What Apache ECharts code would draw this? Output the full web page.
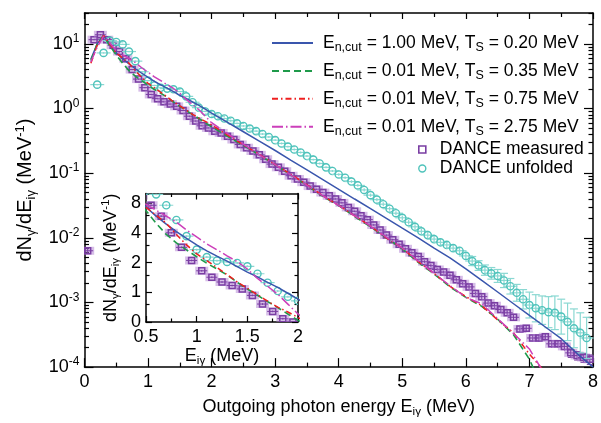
<!DOCTYPE html>
<html><head><meta charset="utf-8">
<script src="https://cdn.jsdelivr.net/npm/echarts@6/dist/echarts.min.js"></script>
<style>html,body{margin:0;padding:0;background:#fff}#c{width:601px;height:423px}</style>
</head><body><div id="c"></div>
<script>
// ---------------- data ----------------
const measuredE = [0.05,0.15,0.25,0.35,0.45,0.55,0.65,0.75,0.85,0.95,
  1.05,1.15,1.25,1.35,1.45,1.55,1.65,1.75,1.85,1.95,
  2.05,2.15,2.25,2.35,2.45,2.55,2.65,2.75,2.85,2.95,
  3.05,3.15,3.25,3.35,3.45,3.55,3.65,3.75,3.85,3.95,
  4.05,4.15,4.25,4.35,4.45,4.55,4.65,4.75,4.85,4.95,
  5.05,5.15,5.25,5.35,5.45,5.55,5.65,5.75,5.85,5.95,
  6.05,6.15,6.25,6.35,6.45,6.55,6.65,6.75,6.85,6.95,
  7.05,7.15,7.25,7.35,7.45,7.55,7.65,7.75,7.85,7.95];
const measuredY = [0.0063,11.6,13.8,11.6,9.5,7.6,5.9,4.0,2.85,2.1,
  1.65,1.42,1.27,1.17,1.08,0.93,0.76,0.64,0.54,0.50,
  0.444,0.419,0.372,0.331,0.278,0.248,0.220,0.192,0.164,0.138,
  0.123,0.107,0.0912,0.0813,0.0724,0.0631,0.0562,0.0501,0.0447,0.0398,
  0.0347,0.0295,0.0257,0.0219,0.0191,0.0158,0.0132,0.0110,0.00933,0.00794,
  0.00676,0.00589,0.00513,0.00427,0.00372,0.00324,0.00295,0.00263,0.00224,0.00195,
  0.00174,0.00138,0.00123,0.000977,0.000891,0.000776,0.000692,0.000589,0.000389,0.000398,
  0.000282,0.000282,0.000295,0.000229,0.000229,0.000209,0.000166,0.000151,0.000141,0.000132];
// relative (linear) uncertainty
const measuredErr = [0.1,0.02,0.02,0.02,0.02,0.02,0.02,0.02,0.02,0.02,
  0.02,0.02,0.02,0.02,0.02,0.02,0.02,0.02,0.02,0.02,
  0.02,0.02,0.02,0.02,0.02,0.02,0.02,0.02,0.02,0.02,
  0.02,0.02,0.02,0.02,0.02,0.02,0.02,0.02,0.02,0.02,
  0.025,0.025,0.025,0.025,0.025,0.025,0.025,0.025,0.025,0.025,
  0.04,0.04,0.04,0.05,0.05,0.05,0.05,0.06,0.06,0.06,
  0.07,0.07,0.08,0.08,0.08,0.09,0.09,0.1,0.1,0.1,
  0.12,0.12,0.12,0.13,0.13,0.14,0.15,0.15,0.16,0.17];

const unfoldedE = [0.2,0.3,0.4,0.5,0.6,0.7,0.8,0.9,1.0,1.1,
  1.2,1.3,1.4,1.5,1.6,1.7,1.8,1.9,2.0,2.1,
  2.2,2.3,2.4,2.5,2.6,2.7,2.8,2.9,3.0,3.1,
  3.2,3.3,3.4,3.5,3.6,3.7,3.8,3.9,4.0,4.1,
  4.2,4.3,4.4,4.5,4.6,4.7,4.8,4.9,5.0,5.1,
  5.2,5.3,5.4,5.5,5.6,5.7,5.8,5.9,6.0,6.1,
  6.2,6.3,6.4,6.5,6.6,6.7,6.8,6.9,7.0,7.1,
  7.2,7.3,7.4,7.5,7.6,7.7,7.8,7.9];
const unfoldedY = [2.34,7.24,11.2,10.7,9.8,7.6,5.4,3.7,2.7,2.27,
  2.09,2.03,1.98,1.83,1.54,1.25,1.03,0.90,0.82,0.759,
  0.700,0.646,0.589,0.537,0.490,0.447,0.403,0.363,0.324,0.288,
  0.257,0.232,0.209,0.184,0.162,0.141,0.123,0.108,0.0955,0.0851,
  0.0741,0.0646,0.0550,0.0457,0.0389,0.0331,0.0282,0.0240,0.0204,0.0174,
  0.0148,0.0126,0.0110,0.00955,0.00851,0.00776,0.00692,0.00631,0.00525,0.00437,
  0.00372,0.00316,0.00282,0.00257,0.00219,0.00178,0.00141,0.00112,0.000912,0.000813,
  0.000759,0.000708,0.000692,0.000603,0.000501,0.000398,0.000339,0.000282];
// uncertainty in decades (log10 half-width)
const unfoldedErr = [0.01,0.01,0.01,0.01,0.01,0.01,0.01,0.01,0.01,0.01,
  0.01,0.01,0.01,0.01,0.01,0.01,0.01,0.01,0.01,0.015,
  0.015,0.015,0.015,0.015,0.015,0.015,0.015,0.015,0.015,0.015,
  0.015,0.015,0.015,0.015,0.015,0.015,0.015,0.015,0.02,0.02,
  0.02,0.02,0.025,0.025,0.025,0.03,0.03,0.03,0.035,0.035,
  0.04,0.04,0.045,0.045,0.05,0.05,0.055,0.06,0.065,0.07,
  0.075,0.08,0.09,0.1,0.11,0.12,0.13,0.15,0.2,0.21,
  0.22,0.24,0.26,0.27,0.29,0.3,0.31,0.32];

const lineE = [0.1,0.2,0.3,0.4,0.5,0.6,0.7,0.8,0.9,1.0,1.1,1.2,1.3,1.4,1.5,1.6,1.7,1.8,1.9,2.0,
  2.25,2.5,2.75,3.0,3.25,3.5,3.75,4.0,4.25,4.5,4.75,5.0,5.25,5.5,5.75,6.0,6.25,6.5,6.75,7.0];
const blueY = [5.75,10.0,13.5,10.0,7.3,5.9,4.9,4.12,3.51,3.02,2.63,2.32,2.07,1.82,1.60,1.43,1.26,1.12,0.977,0.851,
  0.610,0.437,0.313,0.224,0.158,0.112,0.0794,0.0562,0.0398,0.0282,0.0200,0.0141,0.0100,0.00692,0.00490,0.00331,0.00219,0.00145,0.000955,0.000631];
const blueTailE = [7.25,7.5,7.75,8.0];
const blueTailY = [0.000417,0.000275,0.000162,0.0001];
const greenY = [5.5,10.0,13.5,9.3,6.7,5.0,3.85,3.16,2.69,2.29,1.97,1.72,1.50,1.26,1.08,0.933,0.804,0.700,0.603,0.519,
  0.372,0.269,0.191,0.135,0.0933,0.0646,0.0437,0.0316,0.0214,0.0148,0.0100,0.00676,0.00417,0.00275,0.00174,0.00120,0.000871,0.000550,0.000316,0.000132];
const greenTailE = [7.1];
const greenTailY = [0.0000794];
const redY = [5.0,9.5,13.5,9.8,7.24,6.03,5.0,3.85,3.02,2.45,2.09,1.78,1.51,1.27,1.10,0.944,0.813,0.708,0.631,0.556,
  0.389,0.275,0.195,0.136,0.0955,0.0661,0.0447,0.0316,0.0219,0.0151,0.0100,0.00692,0.00427,0.00282,0.00178,0.00123,0.000891,0.000537,0.000339,0.000158];
const redTailE = [7.25];
const redTailY = [0.0000832];
const magentaY = [5.25,8.9,13.2,10.2,7.76,6.76,5.89,5.13,4.27,3.63,3.09,2.69,2.34,2.04,1.72,1.38,1.15,0.955,0.759,0.603,
  0.407,0.282,0.191,0.135,0.0933,0.0646,0.0447,0.0316,0.0219,0.0151,0.0102,0.00692,0.00437,0.00282,0.00182,0.00120,0.000955,0.000562,0.000331,0.000191];
const magentaTailE = [7.2];
const magentaTailY = [0.0000891];

const legendLabels = {
  L1: ['1.00', '0.20'], L2: ['0.01', '0.35'], L3: ['0.01', '0.75'], L4: ['0.01', '2.75']
};
const yMajorTicks = [1e-4, 1e-3, 1e-2, 1e-1, 1, 10];
const insetYTicks = [0.5, 1, 2, 4, 8];
const insetYMinorTicks = [0.75, 1.5, 3, 6];

// ---------------- helpers ----------------
const yMinorTicks = [];
yMajorTicks.forEach(d => { for (let m = 2; m <= 9; m++) { const v = +(d * m).toPrecision(3); if (v <= 30) yMinorTicks.push(v); } });

const PURPLE = '#7a3ea3', PURPLE_HALO = 'rgba(175,125,210,0.5)';
const CYAN = '#4fc3bb', CYAN_BAR = '#8ad8d2';
const BLUE = '#3a56ad', GREEN = '#1f9a4a', RED = '#ee2020', MAGENTA = '#cc3fba';
const FONT = 'Liberation Sans, Arial, Helvetica, sans-serif';

function pts(xs, ys, es) { return xs.map((x, i) => es ? [x, ys[i], es[i]] : [x, ys[i]]); }
function lineData(ys, tailE, tailY) { return pts(lineE, ys).concat(pts(tailE, tailY)); }

function renderMeasured(params, api) {
  const x = api.value(0), y = api.value(1), e = api.value(2);
  const p = api.coord([x, y]);
  const lo = api.coord([x, y * (1 - e)]), hi = api.coord([x, y * (1 + e)]);
  const ch = [];
  ch.push({ type: 'rect', shape: { x: p[0] - 6.5, y: p[1] - 4, width: 13, height: 8 }, style: { fill: PURPLE_HALO } });
  ch.push({ type: 'line', shape: { x1: p[0], y1: lo[1], x2: p[0], y2: hi[1] }, style: { stroke: PURPLE, lineWidth: 1 } });
  if (Math.abs(lo[1] - hi[1]) > 8) {
    ch.push({ type: 'line', shape: { x1: p[0] - 3, y1: lo[1], x2: p[0] + 3, y2: lo[1] }, style: { stroke: PURPLE, lineWidth: 1 } });
    ch.push({ type: 'line', shape: { x1: p[0] - 3, y1: hi[1], x2: p[0] + 3, y2: hi[1] }, style: { stroke: PURPLE, lineWidth: 1 } });
  }
  ch.push({ type: 'line', shape: { x1: p[0] - 5.5, y1: p[1], x2: p[0] + 5.5, y2: p[1] }, style: { stroke: PURPLE, lineWidth: 1 } });
  ch.push({ type: 'rect', shape: { x: p[0] - 3, y: p[1] - 3, width: 6, height: 6 }, style: { fill: 'none', stroke: PURPLE, lineWidth: 1.5 } });
  return { type: 'group', children: ch };
}
function renderUnfolded(params, api) {
  const x = api.value(0), y = api.value(1), e = api.value(2);
  const f = Math.pow(10, e);
  const p = api.coord([x, y]);
  const lo = api.coord([x, y / f]), hi = api.coord([x, y * f]);
  const ch = [];
  ch.push({ type: 'line', shape: { x1: p[0] - 7, y1: p[1], x2: p[0] + 7, y2: p[1] }, style: { stroke: CYAN_BAR, lineWidth: 1.2 } });
  ch.push({ type: 'line', shape: { x1: p[0], y1: lo[1], x2: p[0], y2: hi[1] }, style: { stroke: CYAN_BAR, lineWidth: 1.2 } });
  if (Math.abs(lo[1] - hi[1]) > 9) {
    ch.push({ type: 'line', shape: { x1: p[0] - 4, y1: lo[1], x2: p[0] + 4, y2: lo[1] }, style: { stroke: CYAN_BAR, lineWidth: 1.2 } });
    ch.push({ type: 'line', shape: { x1: p[0] - 4, y1: hi[1], x2: p[0] + 4, y2: hi[1] }, style: { stroke: CYAN_BAR, lineWidth: 1.2 } });
  }
  ch.push({ type: 'circle', shape: { cx: p[0], cy: p[1], r: 3.6 }, style: { fill: 'none', stroke: CYAN, lineWidth: 1.4 } });
  return { type: 'group', children: ch };
}

const axLine = { show: true, lineStyle: { color: '#000', width: 1.5 } };
const tickStyle = { color: '#000', width: 1.2 };
const subRich = { sub: { fontSize: 12, fontFamily: FONT, color: '#000', padding: [10, 0, 0, 0] }, sup: { fontSize: 12, fontFamily: FONT, color: '#000', padding: [0, 0, 10, 0] } };

function xAxisCfg(grid, min, max, interval, pos, labels, major, minor, zl, extra) {
  return Object.assign({
    type: 'value', gridIndex: grid, min: min, max: max, interval: interval, position: pos, zlevel: zl,
    axisLine: axLine, splitLine: { show: false }, minorSplitLine: { show: false },
    axisTick: { inside: true, length: major, lineStyle: tickStyle },
    minorTick: { show: true, splitNumber: 2, length: minor, lineStyle: tickStyle },
    axisLabel: labels ? { show: true, fontSize: 18, color: '#000', fontFamily: FONT, margin: 6, formatter: v => String(v) } : { show: false }
  }, extra || {});
}
function yAxisCfg(grid, base, min, max, pos, ticks, len, labelFmt, zl, extra) {
  return Object.assign({
    type: 'log', logBase: base, gridIndex: grid, min: min, max: max, position: pos, zlevel: zl,
    axisLine: axLine, splitLine: { show: false }, minorTick: { show: false },
    axisTick: { inside: true, length: len, lineStyle: tickStyle, customValues: ticks },
    axisLabel: labelFmt ? { show: true, customValues: ticks, fontSize: 18, color: '#000', fontFamily: FONT, margin: 5, formatter: labelFmt, rich: subRich } : { show: false }
  }, extra || {});
}

const nameStyle = (fs) => ({ fontSize: fs, color: '#000', fontFamily: FONT, rich: { sub: { fontSize: fs * 0.65, fontFamily: FONT, color: '#000', padding: [fs * 0.55, 0, 0, 0] }, sup: { fontSize: fs * 0.65, fontFamily: FONT, color: '#000', padding: [0, 0, fs * 0.55, 0] } } });
const yTitle = 'dN{sub|γ}/dE{sub|iγ} (MeV{sup|-1})';

const option = {
  animation: false,
  backgroundColor: '#fff',
  textStyle: { fontFamily: FONT },
  grid: [
    { left: 84.5, right: 4, top: 13, bottom: 49.5, show: false },
    { left: 146, top: 193.5, width: 152, height: 128.5, show: true, backgroundColor: '#fff', borderWidth: 0, zlevel: 1, z: 0 }
  ],
  legend: [
    {
      left: 271, top: 34, padding: 0, orient: 'vertical', itemWidth: 41, itemHeight: 14, itemGap: 7.4,
      itemStyle: { opacity: 0 },
      data: ['L1', 'L2', 'L3', 'L4'],
      formatter: n => '{f|E}{sub|n,cut}{t| = ' + legendLabels[n][0] + ' MeV, T}{sub|S}{t| = ' + legendLabels[n][1] + ' MeV}',
      textStyle: { fontSize: 17.5, color: '#000', fontFamily: FONT, rich: {
        f: { fontSize: 17.5, color: '#000', fontFamily: FONT, padding: [0, 0, 0, 5] },
        t: { fontSize: 17.5, color: '#000', fontFamily: FONT },
        sub: { fontSize: 12.5, color: '#000', fontFamily: FONT, padding: [10, 0, 0, 0] } } }
    },
    {
      left: 418, top: 140, padding: 0, orient: 'vertical', itemWidth: 7, itemHeight: 7, itemGap: 0,
      data: [
        { name: 'DANCE measured', icon: 'rect', itemStyle: { color: 'rgba(0,0,0,0)', borderColor: PURPLE, borderWidth: 1.6 } },
        { name: 'DANCE unfolded', icon: 'circle', itemStyle: { color: 'rgba(0,0,0,0)', borderColor: CYAN, borderWidth: 1.4 } }
      ],
      formatter: n => '{t|' + n + '}',
      textStyle: { fontSize: 17.5, color: '#000', fontFamily: FONT, lineHeight: 19, rich: { t: { fontSize: 17.5, lineHeight: 19, color: '#000', fontFamily: FONT, padding: [0, 0, 0, 9] } } }
    }
  ],
  xAxis: [
    xAxisCfg(0, 0, 8, 1, 'bottom', true, 9, 4.5, 0, { name: 'Outgoing photon energy E{sub|iγ} (MeV)', nameLocation: 'middle', nameGap: 29, nameTextStyle: nameStyle(18) }),
    xAxisCfg(0, 0, 8, 1, 'top', false, 6, 4, 0),
    xAxisCfg(1, 0.5, 2, 0.5, 'bottom', true, 6, 3.5, 1, { name: 'E{sub|iγ} (MeV)', nameLocation: 'middle', nameGap: 17, nameTextStyle: nameStyle(18) }),
    xAxisCfg(1, 0.5, 2, 0.5, 'top', false, 6, 3.5, 1)
  ],
  yAxis: [
    yAxisCfg(0, 10, 1e-4, 30, 'left', yMajorTicks, 9, v => '10{sup|' + Math.round(Math.log10(v)) + '}', 0,
      { name: yTitle, nameLocation: 'middle', nameGap: 38, nameRotate: 90, nameTextStyle: nameStyle(20) }),
    yAxisCfg(0, 10, 1e-4, 30, 'left', yMinorTicks, 4.5, null, 0, { axisLine: { show: false } }),
    yAxisCfg(0, 10, 1e-4, 30, 'right', yMajorTicks, 9, null, 0),
    yAxisCfg(0, 10, 1e-4, 30, 'right', yMinorTicks, 4.5, null, 0, { axisLine: { show: false } }),
    yAxisCfg(1, 2, 0.5, 10, 'left', insetYTicks, 6, v => String(Math.floor(v)), 1,
      { name: yTitle, nameLocation: 'middle', nameGap: 24, nameRotate: 90, nameTextStyle: nameStyle(18) }),
    yAxisCfg(1, 2, 0.5, 10, 'left', insetYMinorTicks, 3.5, null, 1, { axisLine: { show: false } }),
    yAxisCfg(1, 2, 0.5, 10, 'right', insetYTicks, 6, null, 1),
    yAxisCfg(1, 2, 0.5, 10, 'right', insetYMinorTicks, 3.5, null, 1, { axisLine: { show: false } })
  ],
  series: []
};

function addSeries(xi, yi, zl) {
  option.series.push(
    { type: 'custom', name: 'DANCE measured', xAxisIndex: xi, yAxisIndex: yi, zlevel: zl, clip: true, renderItem: renderMeasured,
      encode: { x: 0, y: 1 }, data: pts(measuredE, measuredY, measuredErr), itemStyle: { color: PURPLE } },
    { type: 'custom', name: 'DANCE unfolded', xAxisIndex: xi, yAxisIndex: yi, zlevel: zl, clip: true, renderItem: renderUnfolded,
      encode: { x: 0, y: 1 }, data: pts(unfoldedE, unfoldedY, unfoldedErr), itemStyle: { color: CYAN } },
    { type: 'line', name: 'L1', xAxisIndex: xi, yAxisIndex: yi, zlevel: zl, symbol: 'none', clip: true,
      data: lineData(blueY, blueTailE, blueTailY), lineStyle: { color: BLUE, width: 1.5, type: 'solid' }, itemStyle: { color: BLUE } },
    { type: 'line', name: 'L2', xAxisIndex: xi, yAxisIndex: yi, zlevel: zl, symbol: 'none', clip: true,
      data: lineData(greenY, greenTailE, greenTailY), lineStyle: { color: GREEN, width: 1.6, type: [7, 4] }, itemStyle: { color: GREEN } },
    { type: 'line', name: 'L3', xAxisIndex: xi, yAxisIndex: yi, zlevel: zl, symbol: 'none', clip: true,
      data: lineData(redY, redTailE, redTailY), lineStyle: { color: RED, width: 1.5, type: [6, 3, 1.5, 3] }, itemStyle: { color: RED } },
    { type: 'line', name: 'L4', xAxisIndex: xi, yAxisIndex: yi, zlevel: zl, symbol: 'none', clip: true,
      data: lineData(magentaY, magentaTailE, magentaTailY), lineStyle: { color: MAGENTA, width: 1.5, type: [11, 3, 1.5, 3] }, itemStyle: { color: MAGENTA } }
  );
}
addSeries(0, 0, 0);
addSeries(2, 4, 1);

const chart = echarts.init(document.getElementById('c'), null, { renderer: 'canvas' });
chart.setOption(option);
</script>
</body></html>
